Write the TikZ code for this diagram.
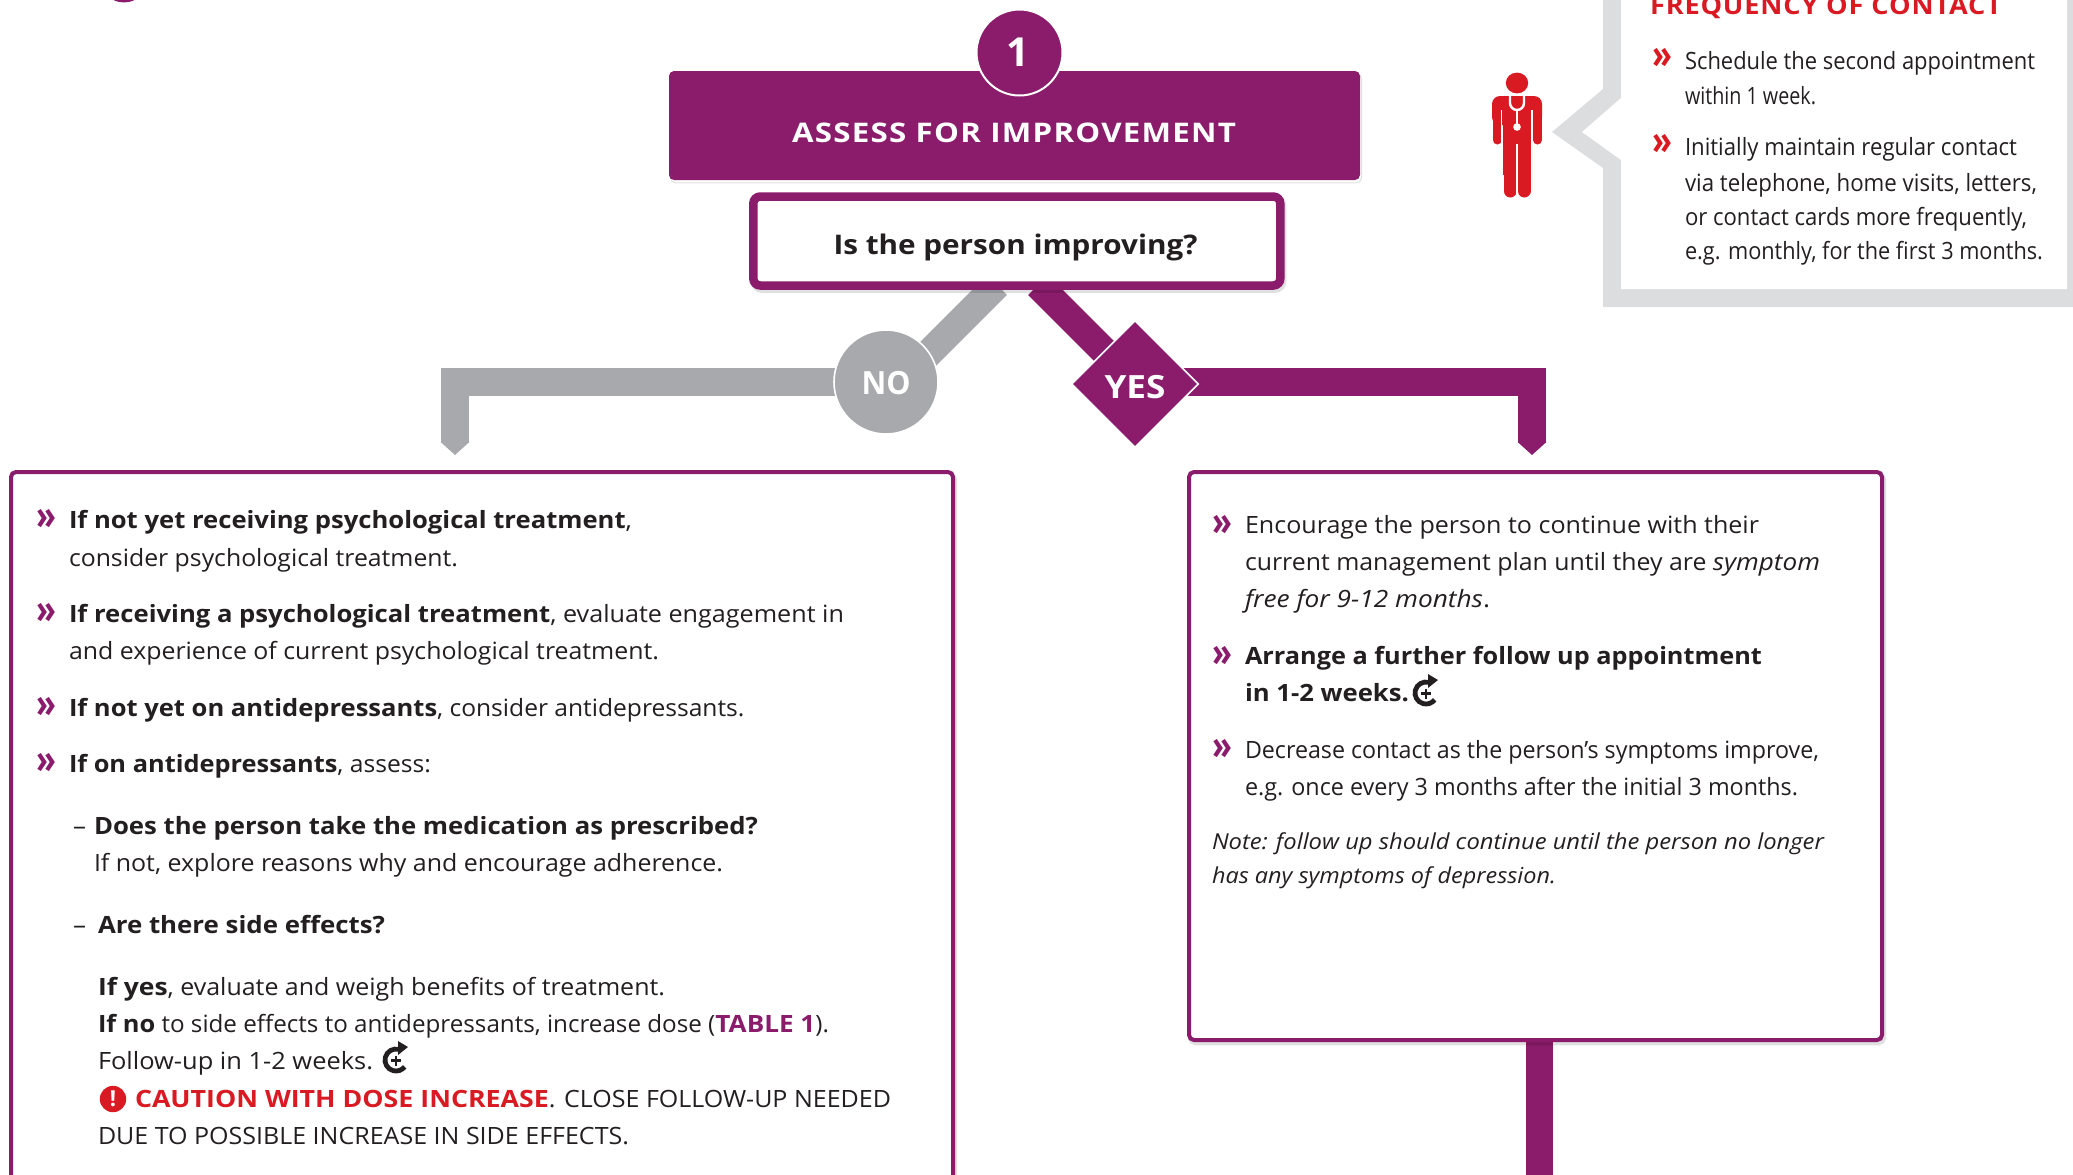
\documentclass[tikz,border=0pt]{standalone}
\usepackage{fontspec}
\usepackage{graphicx}
\setmainfont{Open Sans}
\usetikzlibrary{shapes.geometric,arrows.meta,backgrounds}
\definecolor{pur}{HTML}{8A1C6B}
\definecolor{gbar}{HTML}{A8A9AC}
\definecolor{lgray}{HTML}{DCDDDF}
\definecolor{rd}{HTML}{DA1A22}
\definecolor{ink}{HTML}{231F20}
\newsavebox\fitbox
\newcommand\fitw[2]{\sbox\fitbox{#2}\pgfmathsetmacro\fitr{#1*0.5/\the\wd\fitbox}\scalebox{\fitr}[1]{\usebox\fitbox}}
\newcommand\bw[2]{\scalebox{#1}[1]{\textbf{#2}}}
\newcommand\iw[2]{\scalebox{#1}[1]{\textit{#2}}}
\newcommand\tline[5]{\node[txt] (#1) at (#2,#3) {\fitw{#4}{#5}};}
\newcommand\pchev[5]{\node[txt,text=#4] (#1) at (#2,#3) {\fitw{#5}{\fontsize{20}{20}\selectfont\bfseries »}};}
\newcommand\fupicon[2]{%
  \draw[ink,line width=2.4pt] (#1,#2) ++(75:5.5pt) arc[start angle=75,end angle=322,radius=5.5pt];
  \fill[ink] (#1+2,#2-19) -- (#1+12,#2-13) -- (#1+2,#2-5) -- cycle;
  \draw[ink,line width=1.1pt] (#1-5,#2+.5) -- (#1+5,#2+.5) (#1,#2-4.5) -- (#1,#2+5.5);
}
\tikzset{
  x=0.5pt,y=-0.5pt,
  txt/.style={anchor=base west,inner sep=0pt,outer sep=0pt,text=ink,yshift=-.5pt,font=\fontsize{11.9}{14}\selectfont},
  ctr/.style={anchor=center,inner sep=0pt,outer sep=0pt},
  softshadow/.style={preaction={draw=black,line width=#1,opacity=.12,transform canvas={xshift=.8pt,yshift=-1.4pt}}},
  pbox/.style={rectangle,rounded corners=2.5pt,draw=pur,fill=white,line width=2pt,inner sep=0pt,softshadow=2.5pt},
  barg/.style={draw=gbar,line width=14pt},
  barp/.style={draw=pur,line width=14pt},
  tipg/.style={barg,-{Triangle[length=6.5pt,width=14pt,color=gbar]}},
  tipp/.style={barp,-{Triangle[length=6.5pt,width=14pt,color=pur]}},
}
\begin{document}
\begin{tikzpicture}
\path[use as bounding box] (0,0) rectangle (2073,1174);
\clip (0,0) rectangle (2073,1174);

% logo fragment at top edge
\fill[pur] (124,-10) ellipse[x radius=9pt,y radius=6.2pt];

% coordinates for connector ends
\coordinate (noStart) at (997,285);
\coordinate (noIn) at (900,382);
\coordinate (yesStart) at (1038,285);
\coordinate (yesIn) at (1137,384);
\coordinate (yesBar) at (1135,382);
\coordinate (noEnd) at (455,455);
\coordinate (yesEnd) at (1532,455);
\coordinate (botEnd) at (1539.5,1180);

% header
\node[rectangle,rounded corners=2.5pt,fill=pur,minimum width=345.5pt,minimum height=54.5pt,inner sep=0pt,softshadow=.5pt] (head) at (1014.5,125.5) {};
\node[ctr,text=white] (headtxt) at (1014,133) {\fitw{444}{\fontsize{13.5}{16}\selectfont\bfseries\addfontfeatures{LetterSpace=4}ASSESS FOR IMPROVEMENT}};
\node[circle,fill=pur,draw=white,line width=1pt,minimum size=43pt,inner sep=0pt,text=white] (one) at (1019.5,52.5) {\fontsize{20}{20}\selectfont\bfseries\hspace*{-2pt}1};

% question
\node[rectangle,rounded corners=3.5pt,draw=pur,fill=white,line width=4.25pt,inner sep=0pt,softshadow=4.5pt,minimum width=263.5pt,minimum height=44.5pt] (q) at (1016.8,241) {};
\node[ctr] (qtxt) at (1015.5,247.5) {\fitw{364}{\fontsize{13.5}{16}\selectfont\bfseries\color{ink}Is the person improving?}};

% decisions
\node[circle,fill=gbar,draw=white,line width=.8pt,minimum size=52pt,inner sep=0pt] (no) at (886,382) {\raisebox{-6.4pt}[0pt][0pt]{\fitw{49}{\fontsize{16}{16}\selectfont\bfseries\color{white}NO}}};
\node[diamond,fill=pur,draw=white,line width=.8pt,minimum size=63.5pt,inner sep=0pt] (yes) at (1135,384) {\raisebox{-7pt}[0pt][0pt]{\fitw{61}{\fontsize{16}{16}\selectfont\bfseries\color{white}YES}}};

% content boxes
\node[pbox,minimum width=471pt,minimum height=420pt,anchor=north west] (lbox) at (9,470) {};
\node[pbox,minimum width=346.5pt,minimum height=284pt,anchor=north west] (rbox) at (1187,470) {};

% connectors
\begin{scope}[on background layer]
\draw[barg] (noStart) -- (noIn);
\draw[barp] (yesStart) -- (yesIn);
\draw[tipg] (no.center) -| (noEnd);
\draw[tipp] (yesBar) -| (yesEnd);
\draw[draw=pur,line width=13.5pt] (rbox.south -| botEnd) -- (botEnd);
\end{scope}

% callout
\fill[lgray] (1603,-5) -- (1603,89) -- (1552,132) -- (1603,168) -- (1603,307) -- (2080,307) -- (2080,-5) -- cycle;
\fill[white] (1621,-5) -- (1621,98) -- (1582,132) -- (1621,160) -- (1621,289) -- (2067,289) -- (2067,-5) -- cycle;
\tline{ct}{1650}{13}{352}{\fontsize{12.5}{14}\selectfont\bfseries\color{rd}\addfontfeatures{LetterSpace=3}FREQUENCY OF CONTACT}
\pchev{cc1}{1652}{67}{rd}{20}
\pchev{cc2}{1652}{153}{rd}{20}
\tline{c1}{1685}{68}{350}{Schedule the second appointment}
\tline{c2}{1685}{103}{131}{within 1 week.}
\tline{c3}{1685}{154}{332}{Initially maintain regular contact}
\tline{c4}{1685}{190}{352}{via telephone, home visits, letters,}
\tline{c5}{1685}{224}{342}{or contact cards more frequently,}
\tline{c6}{1685}{258}{358}{e.g. monthly, for the first 3 months.}

% doctor
\fill[rd] (1517,83) ellipse[x radius=5.6pt,y radius=5.2pt];
\fill[rd,rounded corners=4pt] (1492,125) -- (1492,96) -- (1542,96) -- (1542,125) -- cycle;
\fill[rd] (1503,100) rectangle (1531,175);
\draw[rd,line width=4.5pt,line cap=round] (1497,108) -- (1497,140) (1537.5,108) -- (1537.5,140);
\draw[rd,line width=6.5pt,line cap=round] (1510,150) -- (1510,191) (1524,150) -- (1524,191);
\draw[white,line width=.8pt] (1501.5,110) -- (1501.5,146) (1532,110) -- (1532,146) (1517,144) -- (1517,197);
\draw[white,line width=1.2pt] (1510,96) -- (1510,103) arc[start angle=180,end angle=360,radius=3.5pt] -- (1524,96);
\draw[white,line width=1.2pt] (1517,110) -- (1517,125);
\fill[white] (1517,127) circle[radius=1.9pt];

% left box text
\pchev{lc1}{36}{528}{pur}{20}
\pchev{lc2}{36}{622}{pur}{20}
\pchev{lc3}{36}{716}{pur}{20}
\pchev{lc4}{36}{772}{pur}{20}
\tline{l1}{69}{527.5}{563}{\textbf{If not yet receiving psychological treatment},}
\tline{l2}{69}{565}{389}{consider psychological treatment.}
\tline{l3}{69}{621}{775}{\bw{1.02}{If receiving a psychological treatment}, evaluate engagement in}
\tline{l4}{69}{658}{590}{and experience of current psychological treatment.}
\tline{l5}{69}{715}{675.5}{\bw{1.04}{If not yet on antidepressants}, consider antidepressants.}
\tline{l6}{69}{771}{362}{\bw{1.03}{If on antidepressants}, assess:}
\tline{ld1}{73}{833}{13}{–}
\tline{l7}{94}{833}{664}{\textbf{Does the person take the medication as prescribed?}}
\tline{l8}{94}{870}{629}{If not, explore reasons why and encourage adherence.}
\tline{ld2}{73}{932}{13}{–}
\tline{l9}{98}{932}{287}{\textbf{Are there side effects?}}
\tline{l10}{98}{994}{567}{\bw{1.06}{If yes}, evaluate and weigh benefits of treatment.}
\tline{l11}{98}{1031}{731}{\bw{1.05}{If no} to side effects to antidepressants, increase dose (\color{pur}\bw{1.08}{TABLE 1}\color{ink}).}
\tline{l12}{98}{1068}{275}{Follow-up in 1-2 weeks.}
\fupicon{396}{1060}
\node[circle,fill=rd,minimum size=13.2pt,inner sep=0pt,text=white] (warn) at (113,1099) {\fontsize{11}{12}\selectfont\bfseries !};
\tline{l13}{135}{1106}{756}{\color{rd}\bw{1.07}{CAUTION WITH DOSE INCREASE}\color{ink}. CLOSE FOLLOW-UP NEEDED}
\tline{l14}{98}{1143}{531}{DUE TO POSSIBLE INCREASE IN SIDE EFFECTS.}

% right box text
\pchev{rc1}{1212}{534}{pur}{20}
\pchev{rc2}{1212}{665}{pur}{20}
\pchev{rc3}{1212}{758}{pur}{20}
\tline{r1}{1245}{532.5}{514}{Encourage the person to continue with their}
\tline{r2}{1245}{569.5}{575}{current management plan until they are \iw{1.05}{symptom}}
\tline{r3}{1245}{606.5}{245}{\textit{free for 9-12 months}.}
\tline{r4}{1245}{663.5}{517}{\textbf{Arrange a further follow up appointment}}
\tline{r5}{1245}{700.5}{164}{\textbf{in 1-2 weeks.}}
\fupicon{1426}{693}
\tline{r6}{1245}{757}{574}{Decrease contact as the person’s symptoms improve,}
\tline{r7}{1245}{794}{553}{e.g. once every 3 months after the initial 3 months.}
\tline{n1}{1212}{848}{612}{\fontsize{11}{14}\selectfont\itshape Note: follow up should continue until the person no longer}
\tline{n2}{1212}{882}{344}{\fontsize{11}{14}\selectfont\itshape has any symptoms of depression.}
\end{tikzpicture}
\end{document}
